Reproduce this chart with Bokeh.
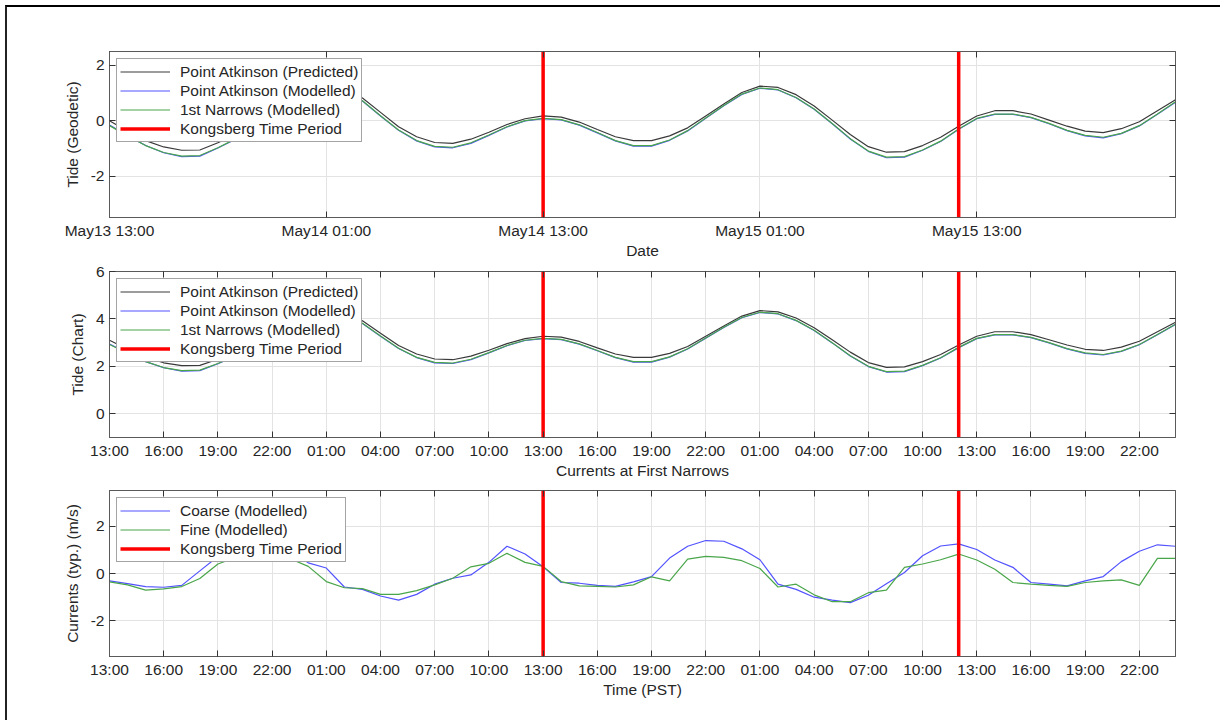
from bokeh.plotting import figure
from bokeh.models import Range1d, FixedTicker, LinearAxis, Legend, LegendItem
from bokeh.layouts import column
from bokeh.embed import file_html
from bokeh.resources import INLINE

# hours since May13 13:00 (PST), hourly samples
HOURS = list(range(60))

PA_PREDICTED = [0.00, -0.38, -0.72, -0.95, -1.07, -1.06, -0.80, -0.50, -0.08, 0.36,
                0.76, 1.06, 1.18, 1.12, 0.82, 0.30, -0.22, -0.58, -0.79, -0.82,
                -0.67, -0.42, -0.14, 0.07, 0.17, 0.13, -0.05, -0.32, -0.58, -0.72,
                -0.72, -0.55, -0.26, 0.17, 0.60, 1.02, 1.25, 1.20, 0.94, 0.53,
                0.02, -0.50, -0.94, -1.14, -1.12, -0.90, -0.60, -0.20, 0.17, 0.36,
                0.36, 0.24, 0.02, -0.20, -0.38, -0.43, -0.29, -0.04, 0.36, 0.76]
PA_MODELLED = [-0.16, -0.54, -0.90, -1.16, -1.30, -1.28, -0.99, -0.66, -0.21, 0.24,
               0.65, 0.97, 1.09, 1.03, 0.71, 0.17, -0.35, -0.73, -0.95, -0.98,
               -0.82, -0.53, -0.23, -0.01, 0.07, 0.03, -0.16, -0.44, -0.73, -0.92,
               -0.92, -0.71, -0.37, 0.09, 0.54, 0.95, 1.17, 1.11, 0.83, 0.41,
               -0.11, -0.66, -1.11, -1.34, -1.32, -1.07, -0.75, -0.31, 0.07, 0.23,
               0.23, 0.11, -0.11, -0.36, -0.55, -0.62, -0.47, -0.19, 0.23, 0.67]
NARROWS_MODELLED = [-0.18, -0.55, -0.90, -1.15, -1.28, -1.26, -0.98, -0.65, -0.20, 0.25,
                    0.66, 0.98, 1.10, 1.04, 0.72, 0.18, -0.34, -0.72, -0.93, -0.96,
                    -0.80, -0.52, -0.22, 0.00, 0.08, 0.04, -0.15, -0.43, -0.72, -0.90,
                    -0.90, -0.70, -0.36, 0.10, 0.55, 0.96, 1.18, 1.12, 0.84, 0.42,
                    -0.10, -0.65, -1.10, -1.32, -1.30, -1.06, -0.74, -0.30, 0.08, 0.24,
                    0.24, 0.12, -0.10, -0.35, -0.53, -0.60, -0.46, -0.18, 0.24, 0.68]
CHART_DATUM_OFFSET = 3.1  # geodetic -> chart datum (m)

COARSE = [-0.31, -0.43, -0.55, -0.58, -0.50, 0.11, 0.72, 1.15, 1.30, 1.25,
          0.95, 0.45, 0.23, -0.57, -0.67, -0.95, -1.12, -0.88, -0.45, -0.20,
          -0.06, 0.47, 1.15, 0.82, 0.28, -0.38, -0.41, -0.50, -0.54, -0.35,
          -0.13, 0.65, 1.15, 1.39, 1.36, 1.04, 0.58, -0.45, -0.67, -1.00,
          -1.12, -1.23, -0.92, -0.43, 0.04, 0.75, 1.16, 1.25, 1.01, 0.57,
          0.26, -0.38, -0.45, -0.52, -0.31, -0.13, 0.50, 0.94, 1.21, 1.15]
FINE = [-0.35, -0.48, -0.70, -0.65, -0.55, -0.21, 0.40, 0.68, 0.80, 0.78,
        0.62, 0.30, -0.34, -0.60, -0.64, -0.88, -0.88, -0.72, -0.48, -0.20,
        0.28, 0.43, 0.85, 0.47, 0.30, -0.34, -0.52, -0.54, -0.57, -0.48,
        -0.14, -0.31, 0.61, 0.72, 0.68, 0.54, 0.21, -0.57, -0.45, -0.90,
        -1.19, -1.19, -0.81, -0.70, 0.26, 0.40, 0.58, 0.82, 0.57, 0.18,
        -0.38, -0.45, -0.50, -0.54, -0.38, -0.31, -0.27, -0.50, 0.64, 0.64]

KONGSBERG_TIMES = [24, 47]  # May14 13:00 and May15 12:00

DATE_TICKS = [0, 12, 24, 36, 48]
DATE_LABELS = ["May13 13:00", "May14 01:00", "May14 13:00", "May15 01:00", "May15 13:00"]
TIME_TICKS = [0, 3, 6, 9, 12, 15, 18, 21, 24, 27, 30, 33, 36, 39, 42, 45, 48, 51, 54, 57]
TIME_LABELS = ["13:00", "16:00", "19:00", "22:00", "01:00", "04:00", "07:00", "10:00",
               "13:00", "16:00", "19:00", "22:00", "01:00", "04:00", "07:00", "10:00",
               "13:00", "16:00", "19:00", "22:00"]

FONT = "Liberation Sans"
FS = "15.5px"
TXT = "#262626"
C_BLACK = "#3a3a3a"
C_BLUE = "#5252ff"
C_GREEN = "#4aa64a"
C_RED = "#ff0000"

W = 1213


def make_fig(height, top, bottom, ylim, yticks, xticks, xlabels, ylabel, xlabel):
    p = figure(width=W, height=height, output_backend="svg", toolbar_location=None,
               x_range=Range1d(0, 59), y_range=Range1d(*ylim),
               min_border_left=102, min_border_right=45,
               min_border_top=top, min_border_bottom=bottom,
               x_axis_location=None, y_axis_location=None)
    p.outline_line_color = "#5a5a5a"
    p.outline_line_width = 1
    p.background_fill_color = "white"
    p.border_fill_color = "white"

    def style(ax, labels=True):
        ax.major_tick_in = 6
        ax.major_tick_out = 0
        ax.minor_tick_line_color = None
        ax.major_tick_line_color = "#333333"
        ax.axis_line_color = "#5a5a5a"
        ax.major_label_text_font = FONT
        ax.axis_label_text_font = FONT
        ax.axis_label_text_font_size = FS
        ax.axis_label_text_font_style = "normal"
        ax.axis_label_text_color = TXT
        if labels:
            ax.major_label_text_font_size = FS
            ax.major_label_text_color = TXT
        else:
            ax.major_label_text_font_size = "0px"
            ax.major_label_text_color = None
            ax.major_label_standoff = 0

    xb = LinearAxis(ticker=FixedTicker(ticks=xticks),
                    major_label_overrides=dict(zip(xticks, xlabels)),
                    axis_label=xlabel)
    style(xb)
    xb.major_label_standoff = 4
    xb.axis_label_standoff = 0
    p.add_layout(xb, "below")

    xt = LinearAxis(ticker=FixedTicker(ticks=xticks))
    style(xt, labels=False)
    p.add_layout(xt, "above")

    yl = LinearAxis(ticker=FixedTicker(ticks=yticks),
                    major_label_overrides={t: str(t) for t in yticks},
                    axis_label=ylabel)
    style(yl)
    yl.major_label_standoff = 5
    yl.axis_label_standoff = 7
    p.add_layout(yl, "left")

    yr = LinearAxis(ticker=FixedTicker(ticks=yticks))
    style(yr, labels=False)
    p.add_layout(yr, "right")

    p.xgrid.ticker = FixedTicker(ticks=xticks)
    p.ygrid.ticker = FixedTicker(ticks=yticks)
    for g in (p.xgrid, p.ygrid):
        g.grid_line_color = "#e3e3e3"
        g.grid_line_width = 1
    return p


def add_legend(p, items):
    leg = Legend(items=items, location="top_left", margin=7, padding=3,
                 spacing=0, label_height=19, glyph_height=19, glyph_width=50,
                 label_standoff=10, label_text_font=FONT, label_text_font_size=FS,
                 label_text_color=TXT, border_line_color="#4a4a4a",
                 border_line_width=1, background_fill_color="white",
                 background_fill_alpha=1.0)
    p.add_layout(leg)


def kongsberg(p, ylim):
    return p.segment(x0=KONGSBERG_TIMES, x1=KONGSBERG_TIMES,
                     y0=[ylim[0]] * len(KONGSBERG_TIMES), y1=[ylim[1]] * len(KONGSBERG_TIMES),
                     line_color=C_RED, line_width=3.5)


def tide_panel(height, top, bottom, ylim, yticks, xticks, xlabels, ylabel, xlabel, offset):
    p = make_fig(height, top, bottom, ylim, yticks, xticks, xlabels, ylabel, xlabel)
    r1 = p.line(HOURS, [v + offset for v in PA_PREDICTED], line_color=C_BLACK, line_width=1.2)
    r2 = p.line(HOURS, [v + offset for v in PA_MODELLED], line_color=C_BLUE, line_width=1.2)
    r3 = p.line(HOURS, [v + offset for v in NARROWS_MODELLED], line_color=C_GREEN, line_width=1.2)
    r4 = kongsberg(p, ylim)
    add_legend(p, [LegendItem(label="Point Atkinson (Predicted)", renderers=[r1]),
                   LegendItem(label="Point Atkinson (Modelled)", renderers=[r2]),
                   LegendItem(label="1st Narrows (Modelled)", renderers=[r3]),
                   LegendItem(label="Kongsberg Time Period", renderers=[r4])])
    return p


p1 = tide_panel(255, 44, 45, (-3.5, 2.5), [-2, 0, 2], DATE_TICKS, DATE_LABELS,
                "Tide (Geodetic)", "Date", 0.0)
p2 = tide_panel(220, 9, 45, (-1, 6), [0, 2, 4, 6], TIME_TICKS, TIME_LABELS,
                "Tide (Chart)", "Currents at First Narrows", CHART_DATUM_OFFSET)

p3 = make_fig(238, 8, 64, (-3.5, 3.5), [-2, 0, 2], TIME_TICKS, TIME_LABELS,
              "Currents (typ.) (m/s)", "Time (PST)")
c1 = p3.line(HOURS, COARSE, line_color=C_BLUE, line_width=1.2)
c2 = p3.line(HOURS, FINE, line_color=C_GREEN, line_width=1.2)
c3 = kongsberg(p3, (-3.5, 3.5))
add_legend(p3, [LegendItem(label="Coarse (Modelled)", renderers=[c1]),
                LegendItem(label="Fine (Modelled)", renderers=[c2]),
                LegendItem(label="Kongsberg Time Period", renderers=[c3])])

layout = column(p1, p2, p3, spacing=0, margin=(5, 0, 0, 5),
                styles={"border-left": "2px solid #222222", "border-top": "2px solid #000000"})

open("out.html", "w").write(file_html(layout, INLINE))
